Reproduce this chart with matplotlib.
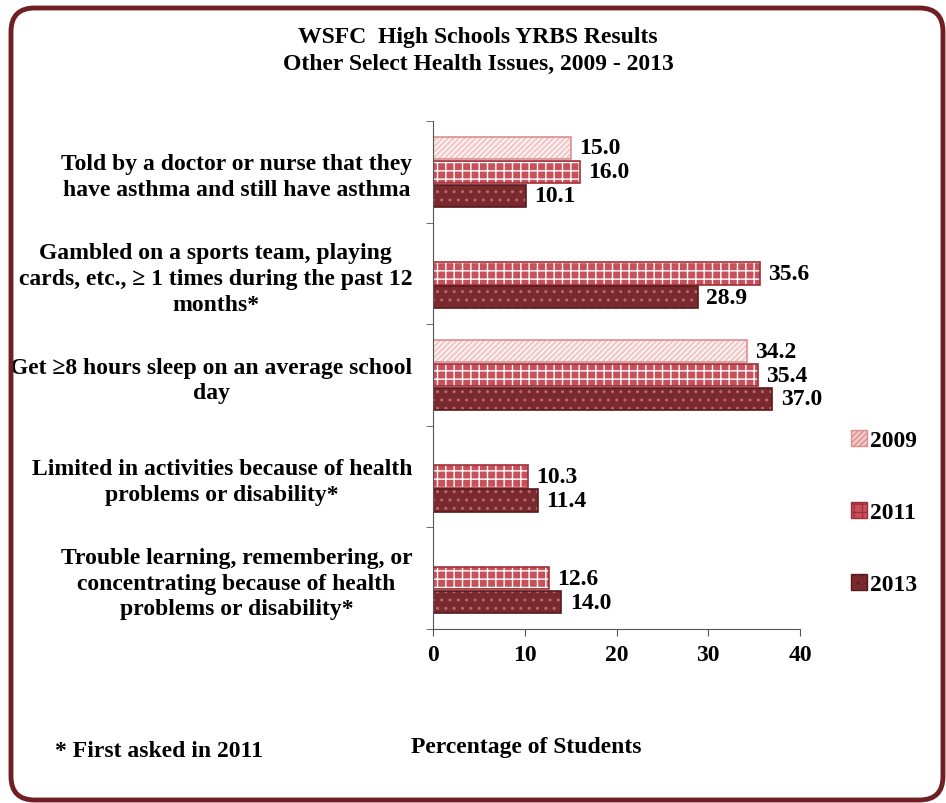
import matplotlib
matplotlib.use("Agg")
import matplotlib.pyplot as plt
import numpy as np
from matplotlib.patches import FancyBboxPatch, Patch

categories = [
    "Told by a doctor or nurse that they\nhave asthma and still have asthma",
    "Gambled on a sports team, playing\ncards, etc., \u2265 1 times during the past 12\nmonths*",
    "Get \u22658 hours sleep on an average school\nday",
    "Limited in activities because of health\nproblems or disability*",
    "Trouble learning, remembering, or\nconcentrating because of health\nproblems or disability*",
]
years = ["2009", "2011", "2013"]
v2009 = [15.0, np.nan, 34.2, np.nan, np.nan]
v2011 = [16.0, 35.6, 35.4, 10.3, 12.6]
v2013 = [10.1, 28.9, 37.0, 11.4, 14.0]
xticks = [0, 10, 20, 30, 40]

plt.rcParams['font.family'] = ['Liberation Serif', 'DejaVu Serif']
plt.rcParams['font.weight'] = 'bold'
plt.rcParams['hatch.linewidth'] = 1.0

FS = 17

fig = plt.figure(figsize=(9.46, 8.04), dpi=100)
ax = fig.add_axes([433/946, 1-630/804, (800-433)/946, (630-122)/804])

face = ['#f3c9c9', '#c8505a', '#7a2a2e']
hatchc = ['#ffffff', '#ffffff', '#b86a6a']
hatches = ['//////', '++', '..']
edge = ['#d89090', '#a03038', '#5a1a1e']
offs = [-0.235, 0, 0.235]
h = 0.22
y = np.arange(len(categories))
series = [v2009, v2011, v2013]
for i, vals in enumerate(series):
    vals = np.array(vals, dtype=float)
    ax.barh(y + offs[i], vals, height=h, color=face[i], edgecolor=hatchc[i],
            hatch=hatches[i], linewidth=0)
    ax.barh(y + offs[i], vals, height=h, fill=False, edgecolor=edge[i], linewidth=1.2)
    for yy, v in zip(y + offs[i], vals):
        if not np.isnan(v):
            ax.annotate(f"{v:.1f}", (v, yy), xytext=(6, 0), textcoords='offset points',
                        va='center', ha='left', fontsize=FS, fontweight='bold')

ax.set_xlim(0, 40)
ax.set_ylim(4.5, -0.5)
ax.set_xticks(xticks)
ax.set_xticklabels([str(t) for t in xticks], fontsize=FS, fontweight='bold')
ax.set_yticks(y)
ax.set_yticklabels(categories, fontsize=FS, fontweight='bold', linespacing=1.3,
                   multialignment='center')
ax.tick_params(axis='y', length=0, pad=15)
ax.set_yticks(np.arange(-0.5, 5, 1), minor=True)
ax.tick_params(axis='y', which='minor', length=5, color='#555555')
ax.tick_params(axis='x', length=5, color='#555555', pad=6)
for s in ['top', 'right']:
    ax.spines[s].set_visible(False)
for s in ['left', 'bottom']:
    ax.spines[s].set_color('#555555')

handles = [Patch(facecolor=face[i], edgecolor=edge[i], hatch=hatches[i]) for i in range(3)]
fig.legend(handles, years, loc='upper left', bbox_to_anchor=(830/946, 1-410/804),
           frameon=False, labelspacing=2.15, handlelength=0.65,
           handleheight=0.65, handletextpad=0.15, prop={'weight': 'bold', 'size': FS})

fig.text(478/946, 1-37/804, "WSFC  High Schools YRBS Results", ha='center', va='center',
         fontsize=FS, fontweight='bold')
fig.text(478/946, 1-64/804, "Other Select Health Issues, 2009 - 2013", ha='center', va='center',
         fontsize=FS, fontweight='bold')
fig.text(526/946, 1-748/804, "Percentage of Students", ha='center', va='center',
         fontsize=FS, fontweight='bold')
fig.text(55/946, 1-752/804, "* First asked in 2011", ha='left', va='center',
         fontsize=FS, fontweight='bold')

border = FancyBboxPatch((11/946, 3/804), 932/946, 792/804,
                        boxstyle="round,pad=0,rounding_size=0.025",
                        transform=fig.transFigure, fill=False,
                        edgecolor='#6e2024', linewidth=3.5, mutation_aspect=946/804)
fig.patches.append(border)

fig.savefig("out.png", dpi=100)
